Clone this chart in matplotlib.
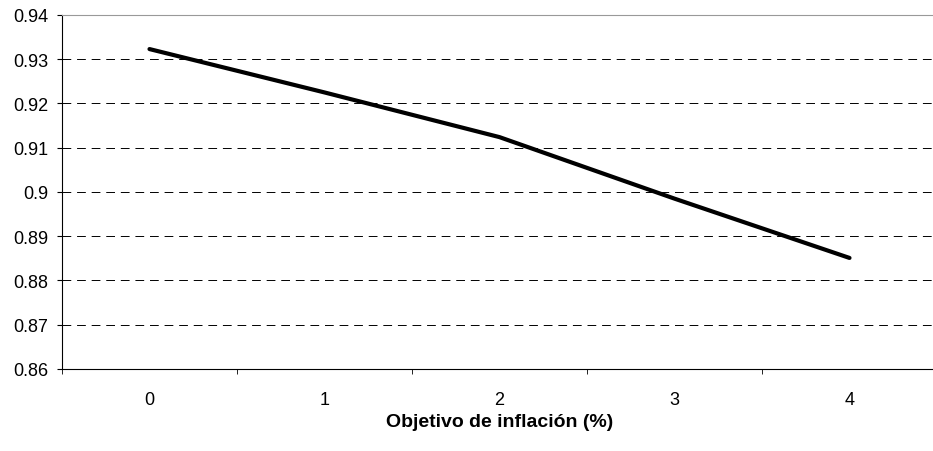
import numpy as np
import matplotlib
matplotlib.use('Agg')
import matplotlib.pyplot as plt

# Data
objetivo = [0, 1, 2, 3, 4]
valores = [0.9323, 0.9225, 0.9124, 0.8985, 0.8851]
y_ticks = [0.86, 0.87, 0.88, 0.89, 0.9, 0.91, 0.92, 0.93, 0.94]
y_labels = ['0.86', '0.87', '0.88', '0.89', '0.9', '0.91', '0.92', '0.93', '0.94']

plt.rcParams['font.family'] = ['Liberation Sans', 'DejaVu Sans']

fig = plt.figure(figsize=(9.33, 4.52), dpi=100)
# plot area: x 62..937 px, y 16..370 px
ax = fig.add_axes([62 / 933, 1 - 370 / 452, 875 / 933, 354 / 452])

ax.plot(objetivo, valores, color='black', linewidth=3, solid_capstyle='round', zorder=3)

ax.set_xlim(-0.5, 4.5)
ax.set_ylim(0.86, 0.94)
ax.set_yticks(y_ticks)
ax.set_yticklabels(y_labels)
ax.set_xticks(objetivo)
ax.set_xticklabels([str(v) for v in objetivo])
ax.set_xticks(np.arange(-0.5, 5.0, 1.0), minor=True)

ax.grid(axis='y', color='black', linestyle=(0, (9, 6)), linewidth=0.7)
ax.tick_params(axis='x', which='major', length=0, pad=15.5, labelsize=13)
ax.tick_params(axis='x', which='minor', length=3.6, direction='out', color='black')
ax.tick_params(axis='y', length=3.6, direction='out', pad=6.5, labelsize=13)

ax.spines['top'].set_color('#999999')
ax.spines['right'].set_visible(False)
ax.spines['left'].set_color('black')
ax.spines['bottom'].set_color('black')

ax.set_xlabel('Objetivo de inflación (%)', fontsize=14, fontweight='bold', labelpad=4)

plt.savefig('out.png', dpi=100)
